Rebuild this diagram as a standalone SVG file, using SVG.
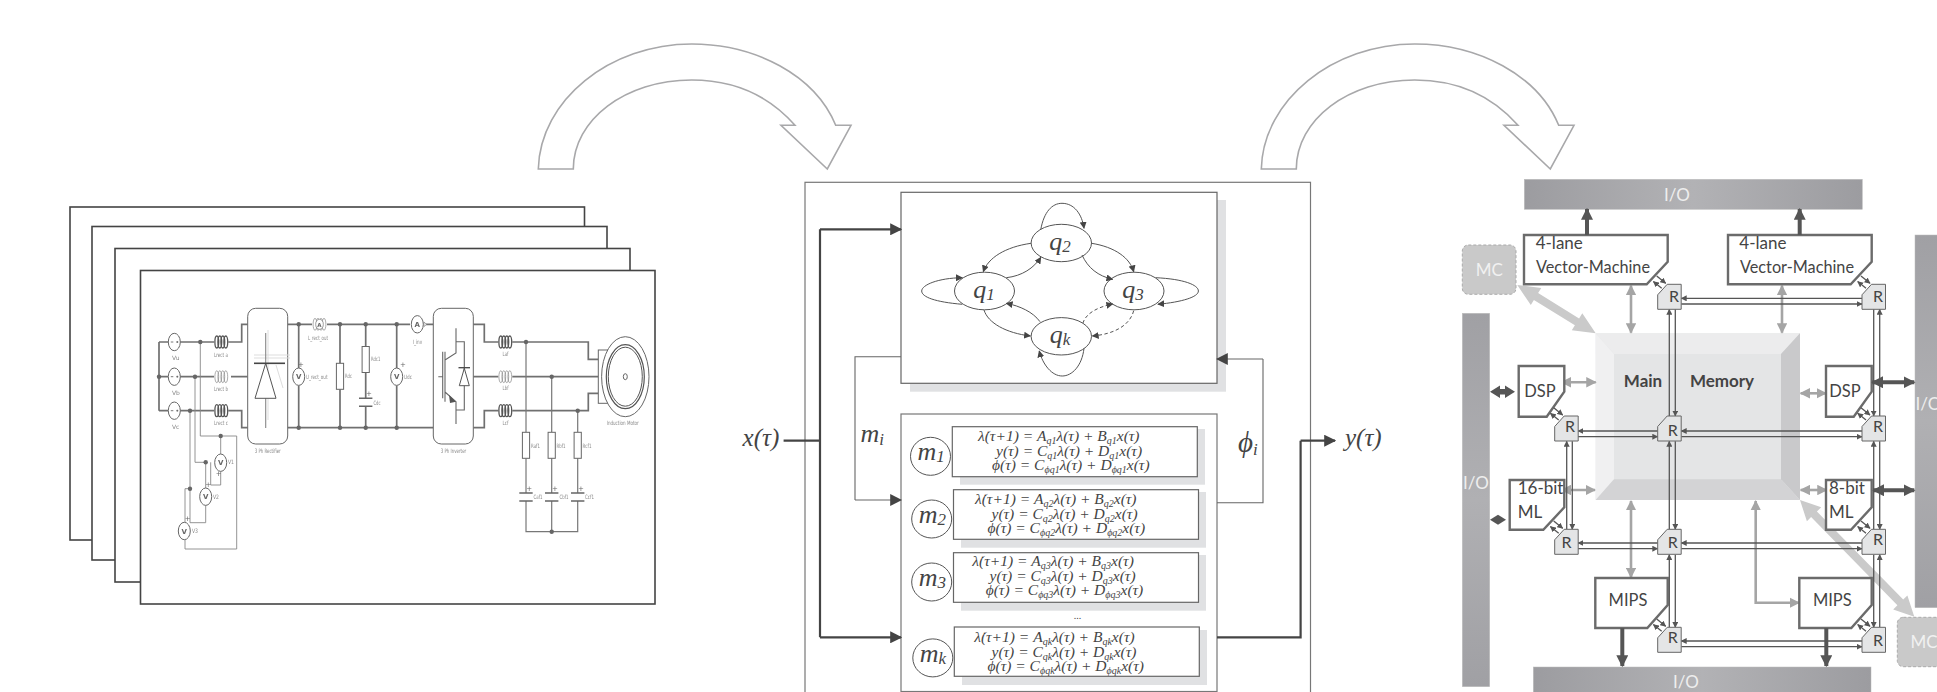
<svg xmlns="http://www.w3.org/2000/svg" width="1937" height="692" viewBox="0 0 1937 692">
<style>
text{font-family:"Liberation Sans",sans-serif}
.frame{fill:#fff;stroke:#444;stroke-width:1.6}
.bend{fill:#fff;stroke:#a8a8aa;stroke-width:1.6}
.w{fill:none;stroke:#777;stroke-width:1.2}
.wt{fill:none;stroke:#707070;stroke-width:1.7}
.wl{fill:none;stroke:#888;stroke-width:.9}
.sym{fill:#fff;stroke:#666;stroke-width:1}
.c{fill:#8a8a8a;font-size:6px;font-family:"DejaVu Sans",sans-serif}
.cm{fill:#666;font-size:7px;font-weight:bold;text-anchor:middle;font-family:"DejaVu Sans",sans-serif}
.p{fill:#666;font-size:7px;text-anchor:middle;font-family:"DejaVu Sans",sans-serif}
.serif{font-family:"Liberation Serif",serif;font-style:italic;fill:#444}
.eq{font-family:"Liberation Serif",serif;font-style:italic;fill:#444;font-size:15.5px}
.s{font-size:10px}
.q{font-size:26px;text-anchor:middle}
.big{font-size:26px}
.sub{font-size:17px}
.box{fill:#fff;stroke:#666;stroke-width:1.2}
.outer{fill:#fff;stroke:#777;stroke-width:1.2}
.shadow{fill:#e0e1e3}
.ell{fill:#fff;stroke:#555;stroke-width:1}
.edge{fill:none;stroke:#555;stroke-width:1;marker-end:url(#tri)}
.dash{stroke-dasharray:3.5 2.5}
.thick{fill:none;stroke:#444;stroke-width:2.2}
.thin{fill:none;stroke:#666;stroke-width:1.1}
.io{fill:url(#iog);stroke:#bbb;stroke-width:.5}
.iov{fill:url(#iov);stroke:#bbb;stroke-width:.5}
.iol{fill:#eee;font-size:17px;text-anchor:middle;font-family:Lato,sans-serif}
.mc{fill:#c9c9c9;stroke:#aaa;stroke-width:1;stroke-dasharray:3 2}
.mcl{fill:#f1f1f1;font-size:17px;text-anchor:middle;font-family:Lato,sans-serif}
.proc{fill:#fff;stroke:#6b6b6b;stroke-width:2.4}
.pl{fill:#444;font-size:17px;font-family:Lato,sans-serif}
.pm{fill:#444;font-size:16.5px;text-anchor:middle;font-family:Lato,sans-serif}
.rt{fill:#e4e5e6;stroke:#666;stroke-width:1}
.rl{fill:#444;font-size:16px;text-anchor:middle;font-family:Lato,sans-serif}
.mem{font-size:17px;font-weight:bold;fill:#444;text-anchor:middle;font-family:Lato,sans-serif}
.link{fill:none;stroke:#555;stroke-width:1.3;marker-end:url(#sm)}
.gr{fill:none;stroke:#a5a5a5;stroke-width:2.6;marker-start:url(#gh);marker-end:url(#gh)}
.dk{fill:none;stroke:#555;stroke-width:4;marker-end:url(#dh)}
.dk2{fill:none;stroke:#555;stroke-width:4;marker-start:url(#dh);marker-end:url(#dh)}
.dkp{fill:#555}
.mca{fill:#cacaca}
</style>
<defs>
<filter id="soft" x="-2%" y="-2%" width="104%" height="104%"><feGaussianBlur stdDeviation="0.35"/></filter>
<linearGradient id="iog" x1="0" y1="0" x2="1" y2="0"><stop offset="0" stop-color="#9c9ca0"/><stop offset=".5" stop-color="#b2b2b5"/><stop offset="1" stop-color="#9c9ca0"/></linearGradient>
<linearGradient id="iov" x1="0" y1="0" x2="0" y2="1"><stop offset="0" stop-color="#a0a0a4"/><stop offset=".5" stop-color="#b0b0b3"/><stop offset="1" stop-color="#a0a0a4"/></linearGradient>
<marker id="tri" viewBox="0 0 10 10" refX="9" refY="5" markerUnits="userSpaceOnUse" markerWidth="7" markerHeight="7" orient="auto"><path d="M0 0L10 5L0 10Z" fill="#444"/></marker>
<marker id="sm" viewBox="0 0 10 10" refX="9" refY="5" markerUnits="userSpaceOnUse" markerWidth="6" markerHeight="6" orient="auto"><path d="M0 0L10 5L0 10Z" fill="#555"/></marker>
<marker id="gh" viewBox="0 0 10 10" refX="9" refY="5" markerUnits="userSpaceOnUse" markerWidth="10.500" markerHeight="10.500" orient="auto-start-reverse"><path d="M0 0L10 5L0 10Z" fill="#a5a5a5"/></marker>
<marker id="dh" viewBox="0 0 10 10" refX="9" refY="5" markerUnits="userSpaceOnUse" markerWidth="12" markerHeight="12" orient="auto-start-reverse"><path d="M0 0L10 5L0 10Z" fill="#555"/></marker>
<marker id="bh" viewBox="0 0 10 10" refX="9" refY="5" markerUnits="userSpaceOnUse" markerWidth="12" markerHeight="12" orient="auto"><path d="M0 0L10 5L0 10Z" fill="#444"/></marker>
<g id="coil"><ellipse cx="-4.5" cy="0" rx="1.9" ry="6"/><ellipse cx="-1.5" cy="0" rx="1.9" ry="6"/><ellipse cx="1.5" cy="0" rx="1.9" ry="6"/><ellipse cx="4.5" cy="0" rx="1.9" ry="6"/></g>
<path id="bendarrow" d="M538.3 169C540 100 610 44 691.7 44C755 44 815 75 835.7 125.3H851L827.3 169L781 125.3H795C770 97 735 80 691.7 80C625 80 573.3 120 573.3 169Z"/>
<g id="src"><ellipse class="sym" rx="6" ry="8.7"/><path d="M-3.5 0H-1M2 0H4M3 -1V1" stroke="#555" stroke-width=".8" fill="none"/></g>
<g id="vm"><ellipse class="sym" rx="6" ry="8.7"/><text class="cm" y="2.5">V</text></g>
<g id="res"><rect class="sym" x="-3.6" y="-13" width="7.2" height="26"/></g>
<path id="cap" d="M-6.7 -4H6.7M-6.7 4H6.7" stroke="#666" stroke-width="1.6" fill="none"/>
<g id="pair"><path class="link" d="M4 4L-4.3 -2.7"/><path class="link" d="M-1 -8.3L8 -1"/></g>
<g id="rtr"><path class="rt" d="M9.5 0H23.5V25H0V10.5Z"/></g>
</defs>
<g id="stack">
<rect class="frame" x="70" y="207" width="514.5" height="333"/>
<rect class="frame" x="92" y="226.5" width="515" height="333.5"/>
<rect class="frame" x="115" y="248.5" width="515" height="333.5"/>
<rect class="frame" x="140.5" y="270.5" width="514.500" height="333.5"/>
</g>
<g id="circuit" filter="url(#soft)">
<path class="wt" d="M159 342V410.7M159 342H168M180 342H214M159 376.7H168M180 376.7H214M159 410.7H168M180 410.7H214"/>
<path class="wt" d="M228.3 342H241.7V324.3H247.7M231 376.7H247.7M228.3 410.7H241.7V427.7H247.7"/>
<path class="wt" d="M287.7 324.3H312M327 324.3H410M424 324.3H433.3M287.7 427.700H433.3"/>
<path class="wt" d="M298.7 324.3V368M298.7 385.4V427.7M340 324.3V363.3M340 389.3V427.7M365.7 324.3V346.7M365.7 372.3V398M365.7 406V427.7M396.7 324.3V368M396.7 385.4V427.7"/>
<path class="wt" d="M473.3 324.3H484.3V342H498.3M473.3 376.7H498.3M473.3 427.7H484.3V410.7H498.3M512.3 342H588.3V359.3H598.3M512.3 376.7H598.3M512.3 410.7H588.3V393.3H598.3"/>
<path class="w" d="M526 342V432M551.7 376.7V432M577.7 410.7V432M526 458.3V493M551.7 458.3V493M577.7 458.3V493M526 501V531.7H577.7V501M551.7 501V531.7"/>
<path class="wl" d="M200.3 342V436H236.7V549H185V539.700M195 376.7V462.3H205.7M190 410.7V522.7H205.7V505.4M190 488.7H185V522.3M205.7 462.3V488M220.7 436V454M220.7 471.4V485H210.7V462.3"/>
<g fill="#666"><circle cx="159" cy="376.7" r="2.2"/><circle cx="200.3" cy="342" r="2.2"/><circle cx="195" cy="376.7" r="2.2"/><circle cx="190" cy="410.7" r="2.2"/><circle cx="220.7" cy="436" r="2.2"/><circle cx="205.7" cy="462.3" r="2.2"/><circle cx="190" cy="488.7" r="2.2"/>
<circle cx="298.7" cy="324.3" r="2.2"/><circle cx="340" cy="324.3" r="2.2"/><circle cx="365.7" cy="324.3" r="2.2"/><circle cx="396.7" cy="324.3" r="2.2"/><circle cx="298.7" cy="427.7" r="2.2"/><circle cx="340" cy="427.7" r="2.2"/><circle cx="365.7" cy="427.7" r="2.2"/><circle cx="396.7" cy="427.7" r="2.2"/>
<circle cx="526" cy="342" r="2.2"/><circle cx="551.7" cy="376.7" r="2.2"/><circle cx="577.7" cy="410.7" r="2.2"/><circle cx="551.7" cy="531.7" r="2.2"/></g>
<use href="#src" x="174.3" y="342"/><use href="#src" x="174.3" y="376.7"/><use href="#src" x="174.3" y="410.7"/>
<g fill="none" stroke="#555" stroke-width="1.3"><use href="#coil" x="221.3" y="342"/><use href="#coil" x="221.3" y="410.7"/><use href="#coil" x="505.3" y="342"/><use href="#coil" x="505.3" y="410.7"/></g>
<g fill="none" stroke="#888" stroke-width=".7"><use href="#coil" x="221.3" y="376.7"/><use href="#coil" x="505.3" y="376.7"/><use href="#coil" x="319.5" y="324.3"/></g>
<ellipse cx="319.5" cy="324.3" rx="3.8" ry="5" fill="#fff" stroke="#888" stroke-width=".7"/><text class="cm" x="319.5" y="326.5" style="font-size:5.5px">A</text>
<rect class="sym" x="247.7" y="308.3" width="40" height="135.7" rx="8"/>
<rect class="sym" x="433.3" y="308.3" width="40" height="135.7" rx="8"/>
<path d="M268 330V420M254 355H290M254 358H290M276 365L283 388" stroke="#ddd" stroke-width="1" fill="none"/>
<path d="M265.7 333V428" stroke="#888" stroke-width="1.1"/>
<path d="M255 398.3H276L265.7 363.3Z" fill="#fff" stroke="#555" stroke-width="1"/><path d="M254 363.3H285" stroke="#444" stroke-width="1.6"/>
<path d="M438.3 376.7H442.7M442.7 351.7V398.3M445 351.7V401.7M445 360L456 353V328.3M445 392L456 401.7V424M456 341.7H464.3V410H456" fill="none" stroke="#666" stroke-width="1.1"/>
<path d="M449 395L456 401.7L450 403Z" fill="#555"/>
<path d="M459.3 385.7H469.3L464.3 368.3Z" fill="#fff" stroke="#555"/><path d="M458.5 367.7H470" stroke="#444" stroke-width="1.3"/>
<use href="#vm" x="298.7" y="376.7"/><use href="#vm" x="396.7" y="376.7"/><use href="#vm" x="220.7" y="462.7"/><use href="#vm" x="205.7" y="496.7"/><use href="#vm" x="184.3" y="531"/>
<ellipse class="sym" cx="417.3" cy="324.3" rx="6" ry="8.7"/><text class="cm" x="417.3" y="326.8">A</text>
<path d="M424 322L426.5 324.3L424 326.6Z" fill="#fff" stroke="#777" stroke-width=".6"/>
<use href="#res" x="340" y="376.3"/><use href="#res" x="365.7" y="359.5"/><use href="#res" x="526" y="445.3"/><use href="#res" x="551.7" y="445.3"/><use href="#res" x="577.7" y="445.3"/>
<use href="#cap" x="365.7" y="402.2"/><use href="#cap" x="526" y="497"/><use href="#cap" x="551.7" y="497"/><use href="#cap" x="577.7" y="497"/>
<rect class="sym" x="598.3" y="350" width="10" height="53.3"/>
<ellipse class="sym" cx="625.3" cy="376.7" rx="23.7" ry="40"/>
<g fill="none" stroke="#555"><ellipse cx="625.3" cy="376.7" rx="19" ry="32" stroke-width="1.2"/><ellipse cx="625.3" cy="376.7" rx="17" ry="29.5"/></g>
<ellipse class="sym" cx="625.3" cy="376.7" rx="2" ry="3"/>
<text class="p" x="301" y="367">+</text><text class="p" x="403" y="367">+</text><text class="p" x="369" y="396">+</text><text class="p" x="218.7" y="476">+</text><text class="p" x="208.3" y="487">+</text><text class="p" x="187.7" y="521">+</text><text class="p" x="529.3" y="491">+</text><text class="p" x="555" y="491">+</text><text class="p" x="581" y="491">+</text>
<text x="172" y="360.3" class="c">Vu</text><text x="172" y="395" class="c">Vb</text><text x="172" y="429.3" class="c">Vc</text>
<text x="214" y="356.7" class="c" textLength="14" lengthAdjust="spacingAndGlyphs">Lrect a</text><text x="214" y="391" class="c" textLength="14" lengthAdjust="spacingAndGlyphs">Lrect b</text><text x="214" y="425" class="c" textLength="14" lengthAdjust="spacingAndGlyphs">Lrect c</text>
<text x="254.7" y="453" class="c" textLength="26" lengthAdjust="spacingAndGlyphs">3 Ph Rectifier</text>
<text x="440.7" y="453" class="c" textLength="25.5" lengthAdjust="spacingAndGlyphs">3 Ph Inverter</text>
<text x="308" y="340" class="c" textLength="20" lengthAdjust="spacingAndGlyphs">L_rect_out</text>
<text x="306" y="379" class="c" textLength="21.5" lengthAdjust="spacingAndGlyphs">U_rect_out</text>
<text x="345" y="378" class="c" textLength="7" lengthAdjust="spacingAndGlyphs">Rdc</text>
<text x="371" y="361" class="c" textLength="9.5" lengthAdjust="spacingAndGlyphs">Rdc1</text>
<text x="373.5" y="405" class="c" textLength="7" lengthAdjust="spacingAndGlyphs">Cdc</text>
<text x="404" y="378.5" class="c" textLength="8" lengthAdjust="spacingAndGlyphs">Udc</text>
<text x="412.7" y="344" class="c" textLength="9.5" lengthAdjust="spacingAndGlyphs">I_inv</text>
<text x="502.5" y="356" class="c" textLength="6" lengthAdjust="spacingAndGlyphs">Laf</text><text x="502.5" y="390" class="c" textLength="6" lengthAdjust="spacingAndGlyphs">Lbf</text><text x="502.5" y="425" class="c" textLength="6" lengthAdjust="spacingAndGlyphs">Lcf</text>
<text x="531" y="447.5" class="c" textLength="9" lengthAdjust="spacingAndGlyphs">Raf1</text><text x="556.5" y="447.5" class="c" textLength="9" lengthAdjust="spacingAndGlyphs">Rbf1</text><text x="582.5" y="447.5" class="c" textLength="9" lengthAdjust="spacingAndGlyphs">Rcf1</text>
<text x="533.5" y="499" class="c" textLength="9" lengthAdjust="spacingAndGlyphs">Caf1</text><text x="559.5" y="499" class="c" textLength="9" lengthAdjust="spacingAndGlyphs">Cbf1</text><text x="585" y="499" class="c" textLength="9" lengthAdjust="spacingAndGlyphs">Ccf1</text>
<text x="228" y="464" class="c" textLength="6" lengthAdjust="spacingAndGlyphs">V1</text><text x="213" y="499" class="c" textLength="6" lengthAdjust="spacingAndGlyphs">V2</text><text x="192" y="533" class="c" textLength="6" lengthAdjust="spacingAndGlyphs">V3</text>
<text x="606.7" y="425" class="c" textLength="32" lengthAdjust="spacingAndGlyphs">Induction Motor</text>
</g>
<g id="bend-arrows"><use href="#bendarrow" class="bend"/><use href="#bendarrow" class="bend" x="723"/></g>
<g id="hybrid-frame"><rect class="outer" x="805" y="182.3" width="505.5" height="520"/></g>
<g id="fsm">
<rect class="shadow" x="910" y="200" width="316" height="191.7"/>
<rect class="box" x="901" y="192.3" width="316" height="191"/>
</g>
<g id="node-q1"><ellipse class="ell" cx="984.5" cy="291" rx="30" ry="18.8"/><text class="serif q" x="984" y="298">q<tspan class="sub" dy="2">1</tspan></text></g>
<g id="node-q2"><ellipse class="ell" cx="1061.3" cy="243" rx="30.2" ry="18.7"/><text class="serif q" x="1060" y="250">q<tspan class="sub" dy="2">2</tspan></text></g>
<g id="node-q3"><ellipse class="ell" cx="1134" cy="291" rx="30" ry="18.8"/><text class="serif q" x="1133" y="298">q<tspan class="sub" dy="2">3</tspan></text></g>
<g id="node-qk"><ellipse class="ell" cx="1061.3" cy="336.3" rx="30.2" ry="18.7"/><text class="serif q" x="1060" y="343">q<tspan class="sub" dy="2">k</tspan></text></g>
<g id="modes">
<rect class="outer" x="901" y="414" width="316" height="277.5"/>
<g id="mode-1"><rect class="shadow" x="960" y="429" width="245" height="55.7"/><rect class="box" x="952.3" y="426.7" width="245" height="50"/><ellipse class="ell" cx="930.5" cy="456.3" rx="20" ry="19"/>
<text class="serif big" x="917.5" y="460">m<tspan class="sub" dy="2">1</tspan></text>
<text class="eq" x="978" y="441">λ̇(τ+1) = A<tspan class="s" dy="3">q1</tspan><tspan dy="-3">λ(τ) + B</tspan><tspan class="s" dy="3">q1</tspan><tspan dy="-3">x(τ)</tspan></text>
<text class="eq" x="996" y="456">y(τ) = C<tspan class="s" dy="3">q1</tspan><tspan dy="-3">λ(τ) + D</tspan><tspan class="s" dy="3">q1</tspan><tspan dy="-3">x(τ)</tspan></text>
<text class="eq" x="992" y="470">ϕ(τ) = C<tspan class="s" dy="3">ϕq1</tspan><tspan dy="-3">λ(τ) + D</tspan><tspan class="s" dy="3">ϕq1</tspan><tspan dy="-3">x(τ)</tspan></text></g>
<g id="mode-2"><rect class="shadow" x="961" y="492" width="245" height="55.7"/><rect class="box" x="953.5" y="489.7" width="245" height="49.6"/><ellipse class="ell" cx="931.7" cy="519" rx="20" ry="19"/>
<text class="serif big" x="918.7" y="523">m<tspan class="sub" dy="2">2</tspan></text>
<text class="eq" x="975" y="504">λ̇(τ+1) = A<tspan class="s" dy="3">q2</tspan><tspan dy="-3">λ(τ) + B</tspan><tspan class="s" dy="3">q2</tspan><tspan dy="-3">x(τ)</tspan></text>
<text class="eq" x="991.5" y="519">y(τ) = C<tspan class="s" dy="3">q2</tspan><tspan dy="-3">λ(τ) + D</tspan><tspan class="s" dy="3">q2</tspan><tspan dy="-3">x(τ)</tspan></text>
<text class="eq" x="987.5" y="533">ϕ(τ) = C<tspan class="s" dy="3">ϕq2</tspan><tspan dy="-3">λ(τ) + D</tspan><tspan class="s" dy="3">ϕq2</tspan><tspan dy="-3">x(τ)</tspan></text></g>
<g id="mode-3"><rect class="shadow" x="961" y="555" width="245" height="55.7"/><rect class="box" x="953.5" y="552.7" width="245" height="49.6"/><ellipse class="ell" cx="931.7" cy="582" rx="20" ry="19"/>
<text class="serif big" x="918.7" y="586">m<tspan class="sub" dy="2">3</tspan></text>
<text class="eq" x="972.3" y="566">λ̇(τ+1) = A<tspan class="s" dy="3">q3</tspan><tspan dy="-3">λ(τ) + B</tspan><tspan class="s" dy="3">q3</tspan><tspan dy="-3">x(τ)</tspan></text>
<text class="eq" x="989.5" y="581">y(τ) = C<tspan class="s" dy="3">q3</tspan><tspan dy="-3">λ(τ) + D</tspan><tspan class="s" dy="3">q3</tspan><tspan dy="-3">x(τ)</tspan></text>
<text class="eq" x="985.7" y="595">ϕ(τ) = C<tspan class="s" dy="3">ϕq3</tspan><tspan dy="-3">λ(τ) + D</tspan><tspan class="s" dy="3">ϕq3</tspan><tspan dy="-3">x(τ)</tspan></text></g>
<text x="1077.5" y="619" font-size="10" text-anchor="middle" fill="#444" style="font-family:'Liberation Serif',serif">...</text>
<g id="mode-k"><rect class="shadow" x="962" y="630" width="245" height="55"/><rect class="box" x="954.3" y="627" width="245" height="49.3"/><ellipse class="ell" cx="932.8" cy="657.9" rx="20" ry="19"/>
<text class="serif big" x="919.8" y="662">m<tspan class="sub" dy="2">k</tspan></text>
<text class="eq" x="974.2" y="641.7">λ̇(τ+1) = A<tspan class="s" dy="3">qk</tspan><tspan dy="-3">λ(τ) + B</tspan><tspan class="s" dy="3">qk</tspan><tspan dy="-3">x(τ)</tspan></text>
<text class="eq" x="991.5" y="656.7">y(τ) = C<tspan class="s" dy="3">qk</tspan><tspan dy="-3">λ(τ) + D</tspan><tspan class="s" dy="3">qk</tspan><tspan dy="-3">x(τ)</tspan></text>
<text class="eq" x="987.5" y="670.7">ϕ(τ) = C<tspan class="s" dy="3">ϕqk</tspan><tspan dy="-3">λ(τ) + D</tspan><tspan class="s" dy="3">ϕqk</tspan><tspan dy="-3">x(τ)</tspan></text></g>
</g>
<g id="hybrid-labels">
<text class="serif" style="font-size:25px" x="742.6" y="446">x(τ)</text>
<text class="serif big" x="860.5" y="441.7">m<tspan class="sub" dy="3">i</tspan></text>
<text class="serif" style="font-size:29px" x="1238" y="452">ϕ<tspan class="sub" dy="3">i</tspan></text>
<text class="serif" style="font-size:25px" x="1345" y="446">y(τ)</text>
</g>
<g id="connectors">
<g id="fsm-edges">
<path class="edge" d="M1040.8 229.3C1044 212 1052 203.3 1062 203.3C1074 203.3 1082 214 1084 228.3"/>
<path class="edge" d="M1031 243.3C1005 247 988 258 983.3 271.7"/>
<path class="edge" d="M1006.3 277.7C1022 276 1034 268 1040.8 257.3"/>
<path class="edge" d="M1091.6 243.3C1115 247 1130 258 1133.7 271.7"/>
<path class="edge" d="M1082 255C1088 268 1098 276 1112.7 279.3"/>
<path class="edge" d="M962.3 304.3C935 302 921.7 297 921.7 291C921.7 285 938 278 962.3 277.7"/>
<path class="edge" d="M1155.6 277.7C1184 279 1198.4 285 1198.4 291C1198.4 297 1182 302 1157.9 304.3"/>
<path class="edge" d="M984 310C988 323 1006 333 1030.4 336"/>
<path class="edge" d="M1040 321.7C1033 312 1020 306 1006.3 303.3"/>
<path class="edge dash" d="M1082.8 323.3C1086 313 1098 307 1112.7 304"/>
<path class="edge dash" d="M1133.7 310.7C1130 325 1115 334 1092.4 336"/>
<path class="edge" d="M1084 348.3C1082 366 1072 376 1062.2 376C1052 376 1043 365 1039.2 351"/>
</g>
<path d="M783.6 440.7H820" fill="none" stroke="#444" stroke-width="2.2"/>
<path class="thick" d="M820 229.3V637.3"/>
<path class="thick" style="marker-end:url(#bh)" d="M820 229.3H901"/>
<path class="thick" style="marker-end:url(#bh)" d="M820 637.3H901"/>
<path class="thin" d="M901 356.7H855V500"/>
<path class="thin" style="marker-end:url(#bh)" d="M855 500H901"/>
<path class="thin" d="M1217 502.7H1263V359"/>
<path class="thin" style="marker-end:url(#bh)" d="M1263 359H1217"/>
<path class="thick" d="M1217 637.3H1300.6V440.7"/>
<path class="thick" style="marker-end:url(#bh)" d="M1300.6 440.7H1335"/>
</g>
<g id="arch">
<g id="io-top"><rect class="io" x="1524.3" y="179.3" width="338" height="30"/><text class="iol" x="1677" y="200.7">I/O</text></g>
<g id="io-bottom"><rect class="io" x="1533.3" y="667" width="337.7" height="30"/><text class="iol" x="1686" y="688">I/O</text></g>
<g id="io-left"><rect class="iov" x="1462.3" y="313.3" width="27.4" height="373.4"/><text class="iol" x="1476" y="489.3">I/O</text></g>
<g id="io-right"><rect class="iov" x="1915" y="235" width="30" height="372.7"/><text class="iol" x="1928.5" y="410">I/O</text></g>
<g id="mc-1"><rect class="mc" x="1462.3" y="245" width="53.7" height="49.3" rx="6"/><text class="mcl" x="1489.3" y="276">MC</text></g>
<g id="mc-2"><rect class="mc" x="1897.3" y="617.3" width="53" height="49.4" rx="6"/><text class="mcl" x="1924" y="648">MC</text></g>
<g id="main-memory">
<rect x="1595.7" y="333.3" width="204.3" height="166.7" fill="#e4e5e6"/>
<path d="M1595.7 333.3H1800L1781 354H1614Z" fill="#ececed"/>
<path d="M1595.7 333.3V500L1614 479.3V354Z" fill="#f0f0f1"/>
<path d="M1800 333.3V500L1781 479.3V354Z" fill="#c9c9cb"/>
<path d="M1595.7 500H1800L1781 479.3H1614Z" fill="#d3d3d5"/>
<text class="mem" x="1643" y="387">Main</text><text class="mem" x="1722" y="387">Memory</text>
</g>
<g id="mem-links">
<path class="gr" d="M1631 285.7V332.7"/><path class="gr" d="M1782 285.7V332.7"/>
<path class="gr" d="M1561.7 382.3H1595.7"/><path class="gr" d="M1800.7 393.3H1826"/>
<path class="gr" d="M1561.7 490H1595"/><path class="gr" d="M1800.7 490H1826.7"/>
<path class="gr" d="M1631 501V577.3"/><path class="gr" d="M1755.7 501V602.7H1799"/>
<polygon class="mca" points="1517.3,285 1541.3,288 1538.1,293.1 1579.1,318.4 1582.3,313.3 1595.7,333.3 1571.8,330.3 1574.9,325.2 1533.9,299.9 1530.8,305"/>
<polygon class="mca" points="1800,500 1821.2,507.3 1816.9,511.5 1903.2,599.6 1907.4,595.4 1914.3,616.7 1893.2,609.4 1897.4,605.2 1811.1,517.1 1806.9,521.3"/>
</g>
<g id="proc-vm1"><path class="proc" d="M1524 235H1667.7V261.7L1646.7 284.3H1524Z"/><text class="pl" x="1535.7" y="249.3">4-lane</text><text class="pl" x="1536" y="272.7" textLength="114" lengthAdjust="spacingAndGlyphs">Vector-Machine</text></g>
<g id="proc-vm2"><path class="proc" d="M1728 235H1871.7V261.7L1850.7 284.3H1728Z"/><text class="pl" x="1739.3" y="249.3">4-lane</text><text class="pl" x="1740" y="272.7" textLength="114" lengthAdjust="spacingAndGlyphs">Vector-Machine</text></g>
<g id="proc-dsp1"><path class="proc" d="M1518.7 366H1564.3V391.7L1546.7 416.7H1518.7Z"/><text class="pm" x="1540" y="396.7">DSP</text></g>
<g id="proc-dsp2"><path class="proc" d="M1826 366H1871.7V391.7L1853.7 416.7H1826Z"/><text class="pm" x="1845" y="396.7">DSP</text></g>
<g id="proc-ml16"><path class="proc" d="M1509.7 480H1564.3V507.3L1543.3 529.7H1509.7Z"/><text class="pl" x="1517.7" y="494.3">16-bit</text><text class="pl" x="1517.7" y="518.3">ML</text></g>
<g id="proc-ml8"><path class="proc" d="M1826 480H1871.7V507.3L1851 529.7H1826Z"/><text class="pl" x="1829" y="494.3">8-bit</text><text class="pl" x="1829" y="518.3">ML</text></g>
<g id="proc-mips1"><path class="proc" d="M1595.3 578H1667.7V605L1647.3 628H1595.3Z"/><text class="pm" x="1628" y="606">MIPS</text></g>
<g id="proc-mips2"><path class="proc" d="M1799.3 578H1871.7V605L1851.3 628H1799.3Z"/><text class="pm" x="1832.3" y="606">MIPS</text></g>
<g id="router-links">
<path class="link" d="M1862 298.3H1681.3"/><path class="link" d="M1681.3 304H1862"/>
<path class="link" d="M1657.7 431H1578"/><path class="link" d="M1578 436.7H1657.7"/><path class="link" d="M1862 431H1681.3"/><path class="link" d="M1681.3 436.7H1862"/>
<path class="link" d="M1657.7 543H1578"/><path class="link" d="M1578 548.7H1657.7"/><path class="link" d="M1862 543H1681.3"/><path class="link" d="M1681.3 548.7H1862"/>
<path class="link" d="M1862 641H1681.3"/><path class="link" d="M1681.3 646.7H1862"/>
<path class="link" d="M1669.3 416V309.3"/><path class="link" d="M1675.3 309.3V416"/>
<path class="link" d="M1669.3 529.3V441.3"/><path class="link" d="M1675.3 441.3V529.3"/>
<path class="link" d="M1669.3 627.3V554.7"/><path class="link" d="M1675.3 554.7V627.3"/>
<path class="link" d="M1879.7 416V309.3"/><path class="link" d="M1873.7 309.3V416"/>
<path class="link" d="M1873.7 529.3V441.3"/><path class="link" d="M1879.7 441.3V529.3"/>
<path class="link" d="M1879.7 627.3V554.7"/><path class="link" d="M1873.7 554.7V627.3"/>
<path class="link" d="M1566.7 529.3V441.3"/><path class="link" d="M1572.3 441.3V529.3"/>
</g>
<g id="routers">
<g id="r1"><use href="#rtr" x="1657.7" y="284.3"/><text class="rl" x="1674" y="301.7">R</text><use href="#pair" x="1657.7" y="284.3"/></g>
<g id="r2"><use href="#rtr" x="1862" y="284.3"/><text class="rl" x="1878" y="301.7">R</text><use href="#pair" x="1862" y="284.3"/></g>
<g id="r3"><use href="#rtr" x="1554.7" y="416"/><text class="rl" x="1570" y="432">R</text><use href="#pair" x="1554.7" y="416"/></g>
<g id="r4"><use href="#rtr" x="1657.7" y="416"/><text class="rl" x="1672.7" y="436">R</text></g>
<g id="r5"><use href="#rtr" x="1862" y="416"/><text class="rl" x="1878" y="432">R</text><use href="#pair" x="1862" y="416"/></g>
<g id="r6"><use href="#rtr" x="1554.7" y="529.3"/><text class="rl" x="1566.5" y="548">R</text><use href="#pair" x="1554.7" y="529.3"/></g>
<g id="r7"><use href="#rtr" x="1657.7" y="529.3"/><text class="rl" x="1672.7" y="548">R</text></g>
<g id="r8"><use href="#rtr" x="1862" y="529.3"/><text class="rl" x="1878" y="544.5">R</text><use href="#pair" x="1862" y="529.3"/></g>
<g id="r9"><use href="#rtr" x="1657.7" y="627.3"/><text class="rl" x="1672.7" y="642.5">R</text><use href="#pair" x="1657.7" y="627.3"/></g>
<g id="r10"><use href="#rtr" x="1862" y="627.3"/><text class="rl" x="1878" y="646">R</text><use href="#pair" x="1862" y="627.3"/></g>
</g>
<g id="io-links">
<path class="dk" d="M1587 235V209"/><path class="dk" d="M1799.7 235V209"/>
<path class="dk" d="M1622.3 628V666"/><path class="dk" d="M1826.3 628V666"/>
<polygon class="dkp" points="1490,391.7 1500,385.5 1500,389 1505,389 1505,385.5 1515,391.7 1505,398 1505,394.5 1500,394.5 1500,398"/>
<polygon class="dkp" points="1490,519.7 1498,514.7 1506,519.7 1498,524.7"/>
<path class="dk2" d="M1872.3 382.3H1914.3"/><path class="dk2" d="M1873.3 490.3H1914.3"/>
</g>
</g>
</svg>
